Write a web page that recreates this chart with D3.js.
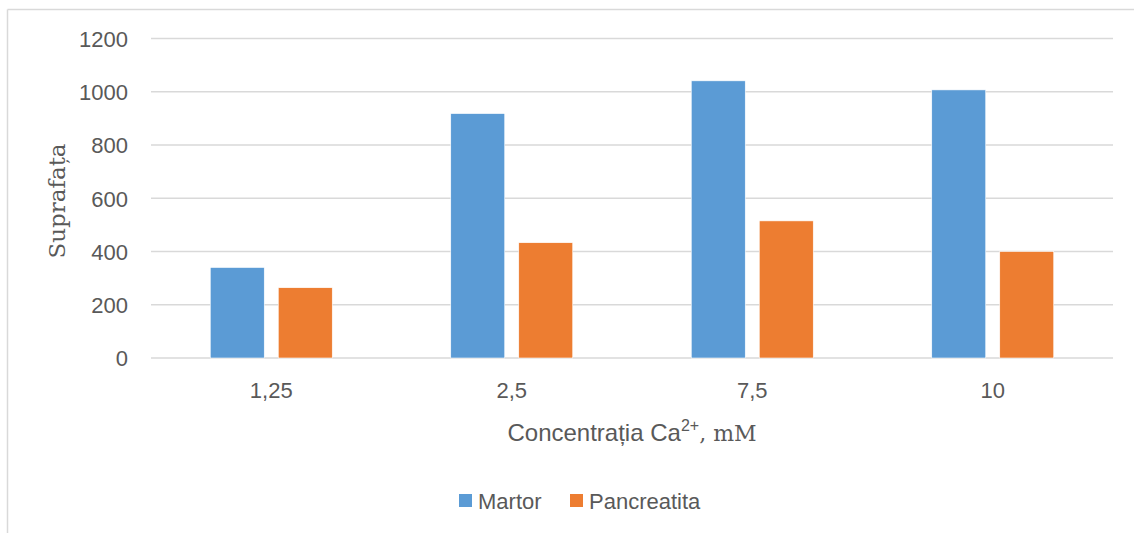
<!DOCTYPE html>
<html>
<head>
<meta charset="utf-8">
<script src="https://cdn.jsdelivr.net/npm/d3@7"></script>
<style>
  html, body { margin: 0; padding: 0; background: #fff; }
  svg { display: block; }
</style>
</head>
<body>
<svg id="chart" width="1134" height="533"></svg>
<script>
// Surface area measured at each Ca2+ concentration
const categories = ["1,25", "2,5", "7,5", "10"];
const seriesNames = ["Martor", "Pancreatita"];
const martor = [340, 918, 1041, 1007];
const pancreatita = [264, 433, 515, 400];
const yTicks = [0, 200, 400, 600, 800, 1000, 1200];
const colors = ["#5B9BD5", "#ED7D31"];

const values = [martor, pancreatita];
const svg = d3.select("#chart");
const W = 1134, H = 533;
const plot = { left: 151, right: 1113, top: 38.5, bottom: 358 };
const sans = "'Liberation Sans', Arial, sans-serif";
const serif = "'DejaVu Serif', 'Liberation Serif', serif";
const textColor = "#595959";
const labelSize = 22;

// Chart area frame (top and left edges visible)
svg.append("line").attr("x1", 7.5).attr("x2", W).attr("y1", 9.5).attr("y2", 9.5)
  .attr("stroke", "#D9D9D9").attr("stroke-width", 1.5);
svg.append("line").attr("x1", 7.5).attr("x2", 7.5).attr("y1", 9.5).attr("y2", H)
  .attr("stroke", "#D9D9D9").attr("stroke-width", 1.5);

const x0 = d3.scaleBand().domain(categories).range([plot.left, plot.right]);
const y = d3.scaleLinear().domain([0, 1200]).range([plot.bottom, plot.top]);

// Horizontal gridlines
svg.append("g").selectAll("line").data(yTicks).join("line")
  .attr("x1", plot.left).attr("x2", plot.right)
  .attr("y1", d => y(d)).attr("y2", d => y(d))
  .attr("stroke", "#D9D9D9").attr("stroke-width", 1.5);

// Y axis labels
const yAxis = d3.axisLeft(y).tickValues(yTicks).tickFormat(d3.format("d")).tickSize(0).tickPadding(0);
const gy = svg.append("g").attr("transform", `translate(128,0)`).call(yAxis);
gy.select(".domain").remove();
gy.selectAll("text").attr("font-family", sans).attr("font-size", labelSize)
  .attr("fill", textColor).attr("dy", "0.36em");

// Bars: two per category, 54px wide with a 14px gap, centred on the category
const barW = 54, gap = 14;
const x1 = d3.scaleOrdinal().domain(seriesNames).range([-(barW + gap / 2), gap / 2]);
const groups = svg.append("g").selectAll("g").data(categories).join("g")
  .attr("transform", d => `translate(${x0(d) + x0.bandwidth() / 2},0)`);
groups.selectAll("rect").data((c, i) => seriesNames.map((s, k) => ({ s, k, v: values[k][i] })))
  .join("rect")
  .attr("x", d => x1(d.s))
  .attr("width", barW)
  .attr("y", d => y(d.v))
  .attr("height", d => y(0) - y(d.v))
  .attr("fill", d => colors[d.k])
  .attr("stroke", "#fff").attr("stroke-width", 0.6);

// Category labels
const xAxis = d3.axisBottom(x0).tickSize(0).tickPadding(0);
const gx = svg.append("g").attr("transform", `translate(0,${plot.bottom + 40})`).call(xAxis);
gx.select(".domain").remove();
gx.selectAll("text").attr("font-family", sans).attr("font-size", labelSize)
  .attr("fill", textColor).attr("dy", "0");

// Y axis title
svg.append("text")
  .attr("transform", `translate(65,201) rotate(-90)`)
  .attr("text-anchor", "middle")
  .attr("font-family", serif).attr("font-size", 23)
  .attr("fill", textColor)
  .text("Suprafața");

// X axis title with superscript charge
const xt = svg.append("text")
  .attr("x", 632).attr("y", 441)
  .attr("text-anchor", "middle")
  .attr("fill", textColor).attr("font-size", 24);
xt.append("tspan").attr("font-family", sans).text("Concentrația Ca");
xt.append("tspan").attr("font-family", sans).attr("font-size", 16).attr("dy", -10).text("2+");
xt.append("tspan").attr("font-family", serif).attr("font-size", 22).attr("dy", 10).text(", mM");

// Legend
const legendX = [459, 570];
const lg = svg.append("g").selectAll("g").data(seriesNames).join("g")
  .attr("transform", (d, i) => `translate(${legendX[i]},494)`);
lg.append("rect").attr("width", 13).attr("height", 13).attr("fill", (d, i) => colors[i]);
lg.append("text").attr("x", 19).attr("y", 14.5)
  .attr("font-family", sans).attr("font-size", labelSize).attr("fill", textColor)
  .text(d => d);
</script>
</body>
</html>
